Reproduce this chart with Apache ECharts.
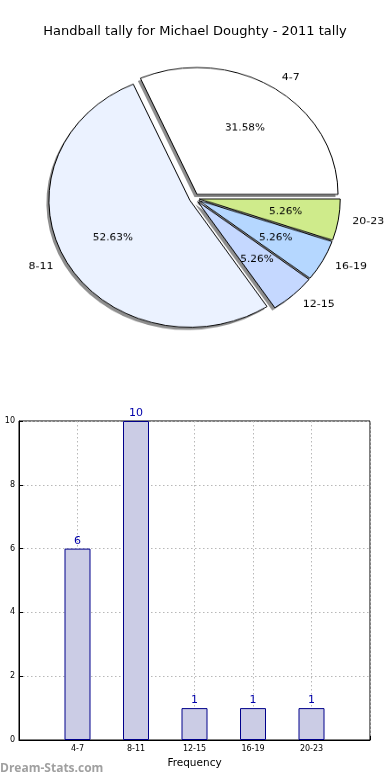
<!DOCTYPE html>
<html><head><meta charset="utf-8">
<script src="https://cdn.jsdelivr.net/npm/echarts@6/dist/echarts.min.js"></script>
<style>
html,body{margin:0;padding:0;background:#fff;overflow:hidden;}
#main{position:absolute;left:0;top:0;width:390px;height:780px;}
#pie{position:absolute;left:0;top:0;width:390px;height:420px;transform:scaleY(0.9);transform-origin:0 0;}
</style></head><body>
<div id="main"></div><div id="pie"></div>
<script>
const titleText = 'Handball tally for Michael Doughty - 2011 tally';
const categories = ['4-7', '8-11', '12-15', '16-19', '20-23'];
const tallies = [6, 10, 1, 1, 1];
const sliceColors = ['#ffffff', '#ebf2ff', '#c5d8ff', '#b5d7ff', '#cfeb8b'];
const yTicks = [0, 2, 4, 6, 8, 10];
const xAxisName = 'Frequency';
const watermark = 'Dream-Stats.com';

const FONT = 'DejaVu Sans';
const total = tallies.reduce((a, b) => a + b, 0);
const R = 141;
const pieCenter = [194.3, 220.2];
const shadowCenter = [pieCenter[0] - 2.5, pieCenter[1] + 3];
const OFFSET = 5;

const pieData = categories.map((c, i) => ({
  name: c, value: tallies[i], selected: true,
  itemStyle: { color: sliceColors[i] }
}));
const plainData = categories.map((c, i) => ({
  name: c, value: tallies[i], selected: true
}));

const common = {
  type: 'pie', startAngle: 0, clockwise: false,
  selectedMode: 'multiple', selectedOffset: OFFSET,
  avoidLabelOverlap: false, minShowLabelAngle: 0,
  emphasis: { disabled: true }
};

const pie = echarts.init(document.getElementById('pie'), null, { renderer: 'canvas' });
pie.setOption({
  animation: false,
  series: [
    Object.assign({}, common, {
      center: shadowCenter, radius: [0, R], z: 1, silent: true,
      itemStyle: { color: '#8e8e8e', borderWidth: 0 },
      label: { show: false }, labelLine: { show: false },
      data: plainData
    }),
    Object.assign({}, common, {
      center: pieCenter, radius: [0, R], z: 2,
      itemStyle: { borderColor: '#000', borderWidth: 1 },
      label: { show: true, position: 'outside', formatter: '{b}', fontFamily: FONT, fontSize: 11,
        color: '#000', distanceToLabelLine: 0 },
      labelLine: { show: false, length: R * 0.1, length2: 0 },
      data: pieData
    }),
    Object.assign({}, common, {
      center: pieCenter, radius: [R * 0.2, R], z: 5, silent: true,
      itemStyle: { color: 'rgba(0,0,0,0)', borderWidth: 0 },
      label: { show: true, position: 'inside', fontFamily: FONT, fontSize: 10.5, color: '#000',
        formatter: p => (p.value / total * 100).toFixed(2) + '%' },
      labelLine: { show: false },
      data: plainData
    })
  ]
});

const xData = [''].concat(categories, ['']);
const barData = ['-'].concat(tallies, ['-']);
const main = echarts.init(document.getElementById('main'), null, { renderer: 'canvas' });
main.setOption({
  animation: false,
  title: { text: titleText, left: 'center', top: 20,
    textStyle: { fontFamily: FONT, fontSize: 13, fontWeight: 'normal', color: '#000' } },
  graphic: [{ type: 'text', left: 0, top: 763,
    style: { text: watermark, font: 'bold 12px "Open Sans"', fill: '#a0a0a0' } }],
  grid: { left: 19, right: 20, top: 421, bottom: 40, show: true, borderColor: '#000', borderWidth: 1,
    backgroundColor: 'transparent' },
  xAxis: {
    type: 'category', data: xData, boundaryGap: false,
    name: xAxisName, nameLocation: 'middle', nameGap: 18,
    nameTextStyle: { fontFamily: FONT, fontSize: 10.5, color: '#000' },
    axisLine: { lineStyle: { color: '#000' } },
    axisTick: { show: true, inside: true, length: 4, lineStyle: { color: '#000' } },
    axisLabel: { fontFamily: FONT, fontSize: 8, color: '#000', margin: 5, interval: 0 },
    splitLine: { show: true, lineStyle: { color: '#b8b8b8', type: [1.5, 2.5], width: 1 } }
  },
  yAxis: {
    type: 'value', min: yTicks[0], max: yTicks[yTicks.length - 1], interval: yTicks[1] - yTicks[0],
    axisLine: { show: true, lineStyle: { color: '#000' } },
    axisTick: { show: true, inside: true, length: 4, lineStyle: { color: '#000' } },
    axisLabel: { fontFamily: FONT, fontSize: 8, color: '#000', margin: 4 },
    splitLine: { show: true, lineStyle: { color: '#b8b8b8', type: [1.5, 2.5], width: 1 } }
  },
  series: [{
    type: 'bar', data: barData, barWidth: 26,
    itemStyle: { color: '#cbcce5', borderColor: '#00008b', borderWidth: 1 },
    label: { show: true, position: 'top', distance: 2, fontFamily: FONT, fontSize: 11, color: '#0000aa' }
  }]
});
</script>
</body></html>
